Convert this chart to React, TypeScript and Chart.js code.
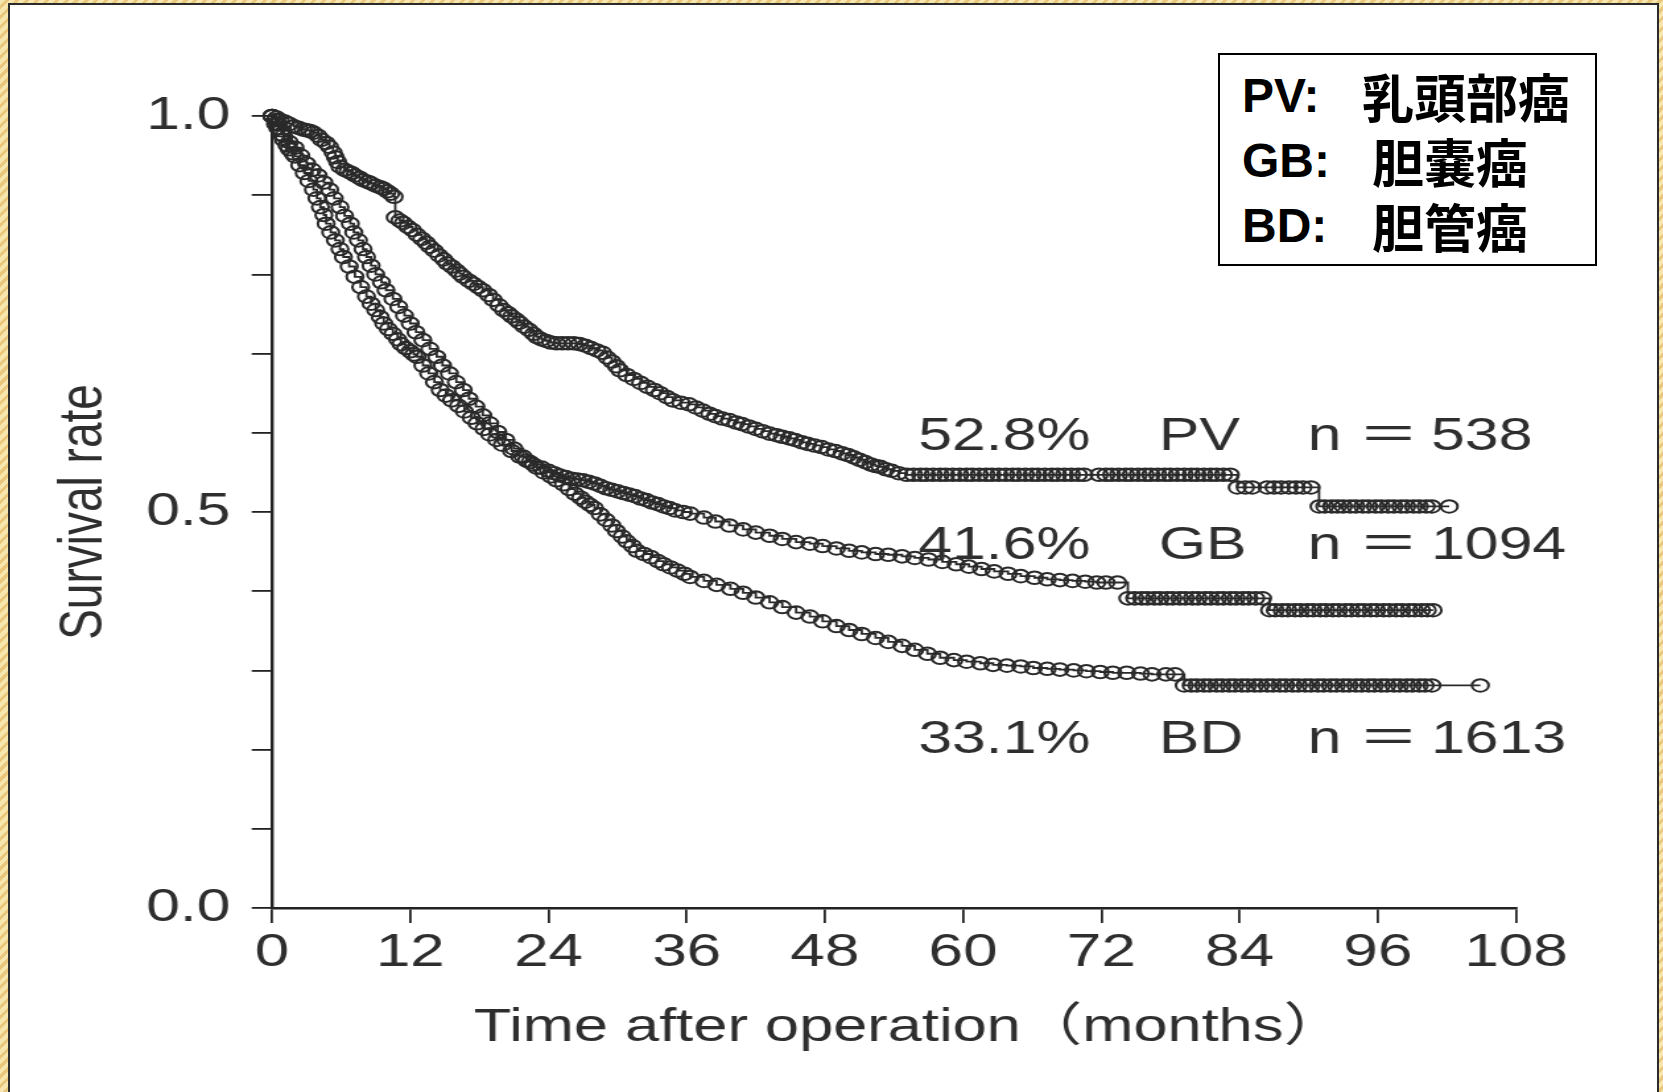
import React, { useEffect, useRef } from 'react';
import { Chart, registerables } from 'chart.js';

Chart.register(...registerables);

// ---- axis ticks ----
const monthTicks = [0, 12, 24, 36, 48, 60, 72, 84, 96, 108];
const survivalTicks = [0, 0.1, 0.2, 0.3, 0.4, 0.5, 0.6, 0.7, 0.8, 0.9, 1.0];
const labelledSurvival = [0, 0.5, 1.0];

// ---- Kaplan-Meier curves: [month, survival], one entry per mark ----
const pvCurve: [number, number][] = [
  [0, 1.0], [0.4, 0.998], [0.7, 0.995], [1.1, 0.993], [1.5, 0.99], [1.9, 0.987], [2.3, 0.985], [2.7, 0.983],
  [3.0, 0.982], [3.3, 0.981], [3.6, 0.979], [4.0, 0.975], [4.3, 0.97], [4.7, 0.966], [5.0, 0.961],
  [5.3, 0.954], [5.5, 0.948], [5.7, 0.942], [5.9, 0.936], [6.3, 0.932], [6.6, 0.93], [6.9, 0.928],
  [7.2, 0.925], [7.6, 0.922], [7.9, 0.919], [8.3, 0.917], [8.6, 0.915], [9.0, 0.912], [9.4, 0.91],
  [9.7, 0.908], [10.0, 0.905], [10.3, 0.902], [10.6, 0.898], [10.7, 0.872], [11.1, 0.868], [11.4, 0.865],
  [11.8, 0.86], [12.2, 0.856], [12.6, 0.85], [13.0, 0.845], [13.4, 0.84], [13.7, 0.835], [14.1, 0.83],
  [14.5, 0.824], [14.9, 0.819], [15.2, 0.814], [15.6, 0.81], [16.0, 0.805], [16.3, 0.801], [16.6, 0.797],
  [17.1, 0.792], [17.5, 0.788], [17.9, 0.784], [18.3, 0.78], [18.8, 0.774], [19.2, 0.768], [19.7, 0.761],
  [20.1, 0.755], [20.5, 0.751], [20.8, 0.747], [21.2, 0.743], [21.5, 0.739], [21.9, 0.734], [22.3, 0.73],
  [22.7, 0.725], [23.0, 0.721], [23.4, 0.718], [23.8, 0.716], [24.2, 0.714], [24.7, 0.713], [25.2, 0.713],
  [25.7, 0.713], [26.2, 0.713], [26.7, 0.712], [27.2, 0.71], [27.7, 0.707], [28.2, 0.704], [28.7, 0.701],
  [29.1, 0.695], [29.5, 0.69], [29.9, 0.684], [30.2, 0.679], [30.8, 0.673], [31.4, 0.668], [32.0, 0.663],
  [32.6, 0.658], [33.2, 0.654], [33.7, 0.65], [34.3, 0.645], [34.8, 0.641], [35.5, 0.638], [36.2, 0.636],
  [36.8, 0.632], [37.4, 0.628], [38.0, 0.624], [38.5, 0.621], [39.1, 0.618], [39.7, 0.616], [40.3, 0.613],
  [40.8, 0.611], [41.4, 0.608], [42.0, 0.605], [42.6, 0.602], [43.2, 0.599], [43.8, 0.597], [44.3, 0.595],
  [44.9, 0.593], [45.4, 0.591], [46.0, 0.588], [46.5, 0.586], [47.1, 0.584], [47.7, 0.582], [48.3, 0.579],
  [48.9, 0.577], [49.5, 0.574], [50.0, 0.572], [50.5, 0.569], [51.0, 0.566], [51.5, 0.563], [52.0, 0.56],
  [52.4, 0.558], [52.8, 0.557], [53.3, 0.554], [53.8, 0.552], [54.4, 0.549], [55.1, 0.547],
  [55.7, 0.547], [56.3, 0.547], [56.8, 0.547], [57.4, 0.547], [58.0, 0.547], [58.5, 0.547], [59.1, 0.547],
  [59.7, 0.547], [60.3, 0.547], [60.8, 0.547], [61.4, 0.547], [62.0, 0.547], [62.5, 0.547], [63.1, 0.547],
  [63.7, 0.547], [64.3, 0.547], [64.8, 0.547], [65.4, 0.547], [66.0, 0.547], [66.5, 0.547], [67.1, 0.547],
  [67.7, 0.547], [68.2, 0.547], [68.8, 0.547], [69.4, 0.547], [70.0, 0.547], [70.5, 0.547], [71.8, 0.547],
  [72.4, 0.547], [72.9, 0.547], [73.5, 0.547], [74.1, 0.547], [74.6, 0.547], [75.2, 0.547], [75.8, 0.547],
  [76.3, 0.547], [76.9, 0.547], [77.5, 0.547], [78.0, 0.547], [78.6, 0.547], [79.2, 0.547], [79.8, 0.547],
  [80.3, 0.547], [80.9, 0.547], [81.5, 0.547], [82.0, 0.547], [82.6, 0.547], [83.2, 0.547],
  [83.8, 0.531], [84.5, 0.531], [85.1, 0.531], [86.4, 0.531], [87.0, 0.531], [87.6, 0.531], [88.3, 0.531],
  [88.9, 0.531], [89.5, 0.531], [90.2, 0.531],
  [90.9, 0.507], [91.4, 0.507], [92.0, 0.507], [92.5, 0.507], [93.0, 0.507], [93.6, 0.507], [94.1, 0.507],
  [94.7, 0.507], [95.2, 0.507], [95.8, 0.507], [96.3, 0.507], [96.9, 0.507], [97.4, 0.507], [98.0, 0.507],
  [98.5, 0.507], [99.1, 0.507], [99.6, 0.507], [100.2, 0.507], [100.7, 0.507], [102.2, 0.507],
];

const gbCurve: [number, number][] = [
  [0, 1.0], [0.3, 0.99], [0.5, 0.985], [0.8, 0.977], [1.0, 0.97], [1.3, 0.963], [1.5, 0.958], [1.8, 0.953],
  [2.0, 0.949], [2.4, 0.938], [2.8, 0.928], [3.2, 0.918], [3.6, 0.907], [3.9, 0.896], [4.2, 0.885],
  [4.5, 0.875], [4.7, 0.864], [5.1, 0.853], [5.5, 0.843], [5.9, 0.832], [6.2, 0.822], [6.7, 0.81],
  [7.2, 0.797], [7.7, 0.784], [8.2, 0.772], [8.6, 0.763], [9.0, 0.755], [9.4, 0.746], [9.7, 0.738],
  [10.1, 0.731], [10.5, 0.725], [10.9, 0.718], [11.2, 0.712], [11.6, 0.707], [12.0, 0.703], [12.3, 0.699],
  [12.6, 0.696], [13.1, 0.685], [13.6, 0.675], [14.1, 0.664], [14.6, 0.654], [15.1, 0.647], [15.6, 0.641],
  [16.2, 0.634], [16.7, 0.627], [17.3, 0.619], [17.8, 0.612], [18.4, 0.605], [18.9, 0.598], [19.5, 0.591],
  [20.0, 0.585], [20.8, 0.577], [21.5, 0.57], [22.1, 0.565], [22.7, 0.56], [23.4, 0.556], [24.0, 0.552],
  [24.5, 0.549], [25.0, 0.546], [25.5, 0.544], [26.0, 0.542], [26.5, 0.541], [27.0, 0.54], [27.5, 0.538],
  [28.0, 0.536], [28.5, 0.533], [29.0, 0.53], [29.5, 0.528], [30.0, 0.526], [30.5, 0.524], [31.0, 0.522],
  [31.5, 0.52], [32.0, 0.517], [32.5, 0.515], [33.0, 0.512], [33.5, 0.51], [34.0, 0.507], [34.5, 0.505],
  [35.0, 0.502], [35.7, 0.5], [36.3, 0.498], [37.5, 0.493], [38.5, 0.488], [39.7, 0.483], [40.9, 0.478],
  [42.0, 0.474], [43.2, 0.47], [44.3, 0.466], [45.5, 0.462], [46.7, 0.46], [47.8, 0.457], [49.0, 0.454],
  [50.1, 0.451], [51.2, 0.449], [52.4, 0.447], [53.5, 0.446], [54.7, 0.444], [55.8, 0.442], [57.0, 0.44],
  [58.2, 0.437], [59.4, 0.434], [60.5, 0.431], [61.6, 0.428], [62.7, 0.425], [63.9, 0.422], [65.0, 0.419],
  [66.2, 0.417], [67.3, 0.415], [68.4, 0.414], [69.5, 0.413], [70.6, 0.412], [71.6, 0.411], [72.4, 0.411],
  [73.4, 0.411],
  [74.3, 0.391], [74.9, 0.391], [75.5, 0.391], [76.0, 0.391], [76.6, 0.391], [77.1, 0.391], [77.7, 0.391],
  [78.2, 0.391], [78.8, 0.391], [79.3, 0.391], [79.9, 0.391], [80.4, 0.391], [81.0, 0.391], [81.5, 0.391],
  [82.1, 0.391], [82.6, 0.391], [83.2, 0.391], [83.7, 0.391], [84.3, 0.391], [84.8, 0.391], [85.4, 0.391],
  [86.0, 0.391],
  [86.6, 0.376], [87.1, 0.376], [87.7, 0.376], [88.2, 0.376], [88.8, 0.376], [89.3, 0.376], [89.9, 0.376],
  [90.4, 0.376], [91.0, 0.376], [91.5, 0.376], [92.1, 0.376], [92.6, 0.376], [93.2, 0.376], [93.7, 0.376],
  [94.3, 0.376], [94.8, 0.376], [95.4, 0.376], [95.9, 0.376], [96.5, 0.376], [97.0, 0.376], [97.6, 0.376],
  [98.1, 0.376], [98.7, 0.376], [99.2, 0.376], [99.8, 0.376], [100.3, 0.376], [100.8, 0.376],
];

const bdCurve: [number, number][] = [
  [0, 1.0], [0.3, 0.995], [0.5, 0.99], [0.8, 0.982], [1.0, 0.975], [1.5, 0.967], [2.0, 0.96], [2.5, 0.95],
  [3.0, 0.94], [3.5, 0.932], [4.0, 0.925], [4.5, 0.916], [5.0, 0.907], [5.4, 0.896], [5.9, 0.885],
  [6.3, 0.874], [6.8, 0.864], [7.1, 0.853], [7.5, 0.843], [7.9, 0.832], [8.2, 0.822], [8.6, 0.811],
  [9.0, 0.8], [9.5, 0.79], [9.9, 0.78], [10.5, 0.769], [11.0, 0.759], [11.5, 0.748], [12.0, 0.738],
  [12.5, 0.727], [13.1, 0.717], [13.7, 0.706], [14.3, 0.696], [14.8, 0.685], [15.4, 0.675], [16.0, 0.664],
  [16.6, 0.654], [17.1, 0.643], [17.7, 0.633], [18.3, 0.622], [18.9, 0.612], [19.6, 0.601], [20.3, 0.591],
  [21.0, 0.58], [21.8, 0.57], [22.4, 0.563], [23.0, 0.556], [23.6, 0.55], [24.2, 0.545], [24.7, 0.54],
  [25.3, 0.535], [25.8, 0.529], [26.3, 0.523], [26.8, 0.518], [27.2, 0.513], [27.6, 0.509], [28.0, 0.505],
  [28.5, 0.497], [29.0, 0.49], [29.5, 0.483], [29.9, 0.476], [30.4, 0.469], [30.8, 0.463], [31.3, 0.457],
  [31.7, 0.451], [32.3, 0.447], [32.9, 0.443], [33.5, 0.438], [34.0, 0.434], [34.6, 0.43], [35.2, 0.426],
  [35.8, 0.422], [36.3, 0.418], [37.5, 0.413], [38.6, 0.408], [39.8, 0.403], [40.9, 0.398], [42.0, 0.392],
  [43.2, 0.386], [44.3, 0.38], [45.5, 0.373], [46.7, 0.368], [47.8, 0.362], [49.0, 0.356], [50.1, 0.351],
  [51.2, 0.346], [52.4, 0.341], [53.5, 0.336], [54.7, 0.331], [55.8, 0.326], [56.9, 0.321], [58.0, 0.316],
  [59.2, 0.313], [60.3, 0.311], [61.5, 0.309], [62.6, 0.307], [63.8, 0.306], [65.0, 0.305], [66.1, 0.303],
  [67.3, 0.302], [68.4, 0.301], [69.6, 0.3], [70.7, 0.299], [71.9, 0.298], [73.0, 0.297], [74.2, 0.297],
  [75.4, 0.296], [76.4, 0.295], [77.6, 0.295], [78.4, 0.295],
  [79.2, 0.281], [79.8, 0.281], [80.3, 0.281], [80.9, 0.281], [81.4, 0.281], [82.0, 0.281], [82.5, 0.281],
  [83.1, 0.281], [83.6, 0.281], [84.2, 0.281], [84.7, 0.281], [85.3, 0.281], [85.8, 0.281], [86.4, 0.281],
  [86.9, 0.281], [87.5, 0.281], [88.0, 0.281], [88.6, 0.281], [89.1, 0.281], [89.7, 0.281], [90.2, 0.281],
  [90.8, 0.281], [91.3, 0.281], [91.9, 0.281], [92.4, 0.281], [93.0, 0.281], [93.5, 0.281], [94.1, 0.281],
  [94.6, 0.281], [95.2, 0.281], [95.7, 0.281], [96.3, 0.281], [96.8, 0.281], [97.4, 0.281], [97.9, 0.281],
  [98.5, 0.281], [99.0, 0.281], [99.6, 0.281], [100.1, 0.281], [100.7, 0.281], [104.9, 0.281],
];

// ---- group annotations ----
const groupCodes = ['PV', 'GB', 'BD'];
const fiveYearRates = ['52.8%', '41.6%', '33.1%'];
const groupSizes = [538, 1094, 1613];
const groupNames = ['乳頭部癌', '胆嚢癌', '胆管癌'];

// ---- layout (page pixels; the plot is drawn narrow and widened by STRETCH) ----
const PAGE_W = 1663;
const PAGE_H = 1092;
const CANVAS_W = 1260;
const STRETCH = PAGE_W / CANVAS_W;
const PLOT_LEFT = 272;
const PLOT_RIGHT = 1516;
const PLOT_TOP = 116;
const PLOT_BOTTOM = 908;

// annotation text anchors, in axis units
const annotationColumns = [56.1, 77.0, 89.9];
const annotationRows = [0.578, 0.441, 0.196];

const INK = '#2e2e2e';
const SANS = '"Liberation Sans", Arial, "Noto Sans CJK JP", sans-serif';

const curveLabels = {
  id: 'curveLabels',
  afterDatasetsDraw(chart: any) {
    const { ctx, scales } = chart;
    const x = scales.x;
    const y = scales.y;
    ctx.save();
    ctx.font = `46px ${SANS}`;
    ctx.fillStyle = INK;
    ctx.textAlign = 'left';
    ctx.textBaseline = 'alphabetic';
    groupCodes.forEach((code, i) => {
      const py = y.getPixelForValue(annotationRows[i]);
      ctx.fillText(fiveYearRates[i], x.getPixelForValue(annotationColumns[0]), py);
      ctx.fillText(code, x.getPixelForValue(annotationColumns[1]), py);
      ctx.fillText(`n ＝\u2009${groupSizes[i]}`, x.getPixelForValue(annotationColumns[2]), py);
    });
    ctx.restore();
  },
};

function curveDataset(label: string, points: [number, number][]) {
  return {
    label,
    data: points.map(([m, s]) => ({ x: m, y: s })),
    stepped: true,
    borderColor: '#2a2a2a',
    borderWidth: 1.8,
    pointRadius: 6.3,
    pointBorderWidth: 2,
    pointBorderColor: '#2a2a2a',
    pointBackgroundColor: 'rgba(255,255,255,0)',
    fill: false,
    clip: false as const,
  };
}

export default function App() {
  const canvasRef = useRef<HTMLCanvasElement | null>(null);

  useEffect(() => {
    const canvas = canvasRef.current;
    if (!canvas) return;
    const chart = new Chart(canvas, {
      type: 'line',
      data: {
        datasets: [
          curveDataset('PV', pvCurve),
          curveDataset('GB', gbCurve),
          curveDataset('BD', bdCurve),
        ],
      },
      options: {
        animation: false,
        responsive: false,
        devicePixelRatio: 1,
        layout: {
          padding: {
            top: PLOT_TOP,
            right: CANVAS_W - PLOT_RIGHT / STRETCH,
            left: 0,
            bottom: 0,
          },
        },
        plugins: {
          legend: { display: false },
          tooltip: { enabled: false },
        },
        scales: {
          x: {
            type: 'linear',
            min: 0,
            max: 108,
            afterBuildTicks: (scale: any) => {
              scale.ticks = monthTicks.map((v) => ({ value: v }));
            },
            afterFit: (scale: any) => {
              scale.height = PAGE_H - PLOT_BOTTOM;
            },
            ticks: {
              autoSkip: false,
              maxRotation: 0,
              padding: 2,
              color: INK,
              font: { size: 47, family: SANS },
              callback: (v: any) => String(v),
            },
            grid: {
              drawOnChartArea: false,
              drawTicks: true,
              tickLength: 15,
              lineWidth: 1.8,
              color: '#222',
            },
            border: { display: true, color: '#222', width: 2.4 },
            title: {
              display: true,
              // the leading en space balances the trailing side bearing of the full-width paren
              text: '\u2002Time after operation（months）',
              color: INK,
              font: { size: 46.5, family: SANS },
              padding: { top: 0, bottom: 36 },
            },
          },
          y: {
            type: 'linear',
            min: 0,
            max: 1,
            afterBuildTicks: (scale: any) => {
              scale.ticks = survivalTicks.map((v) => ({ value: v }));
            },
            afterFit: (scale: any) => {
              scale.width = PLOT_LEFT / STRETCH;
            },
            ticks: {
              autoSkip: false,
              padding: 16,
              color: INK,
              font: { size: 46, family: SANS },
              callback: (v: any) =>
                labelledSurvival.some((l) => Math.abs(l - Number(v)) < 1e-6) ? Number(v).toFixed(1) : '',
            },
            grid: {
              drawOnChartArea: false,
              drawTicks: true,
              tickLength: 15.4,
              lineWidth: 1.8,
              color: '#222',
            },
            border: { display: true, color: '#222', width: 2.4 },
            title: {
              display: true,
              text: 'Survival rate',
              color: INK,
              font: { size: 46, family: SANS },
              padding: { top: 37, bottom: 0 },
            },
          },
        },
      },
      plugins: [curveLabels],
    });
    return () => chart.destroy();
  }, []);

  const latin = { fontFamily: '"Liberation Sans", Arial, sans-serif', fontSize: 48, fontWeight: 700 };
  const cjk = { fontFamily: '"Noto Sans CJK JP", sans-serif', fontSize: 52, fontWeight: 700 };
  const cjkLeft = [142, 152, 152];

  return (
    <div
      style={{
        position: 'absolute',
        left: 0,
        top: 0,
        width: PAGE_W,
        height: PAGE_H,
        overflow: 'hidden',
        background:
          'repeating-linear-gradient(135deg, #f7e6ad 0px, #f7e6ad 4px, #e9c77d 4px, #e9c77d 7px)',
      }}
    >
      <div
        style={{
          position: 'absolute',
          left: 8,
          top: 3,
          width: 1651,
          height: 1092,
          background: '#fff',
          border: '2px solid #2b2b2b',
          boxSizing: 'border-box',
        }}
      />
      <canvas
        ref={canvasRef}
        width={CANVAS_W}
        height={PAGE_H}
        style={{
          position: 'absolute',
          left: 0,
          top: 0,
          width: CANVAS_W,
          height: PAGE_H,
          transform: `scaleX(${STRETCH})`,
          transformOrigin: '0 0',
        }}
      />
      <div
        style={{
          position: 'absolute',
          left: 1218,
          top: 53,
          width: 379,
          height: 213,
          border: '2px solid #000',
          background: '#fff',
          boxSizing: 'border-box',
          color: '#000',
        }}
      >
        {groupCodes.map((code, i) => (
          <div key={code} style={{ position: 'absolute', left: 0, top: 11 + 65 * i, height: 60, width: '100%' }}>
            <span style={{ ...latin, position: 'absolute', left: 22, top: 0, lineHeight: '60px' }}>{code}:</span>
            <span style={{ ...cjk, position: 'absolute', left: cjkLeft[i], top: 0, lineHeight: '60px' }}>
              {groupNames[i]}
            </span>
          </div>
        ))}
      </div>
    </div>
  );
}
